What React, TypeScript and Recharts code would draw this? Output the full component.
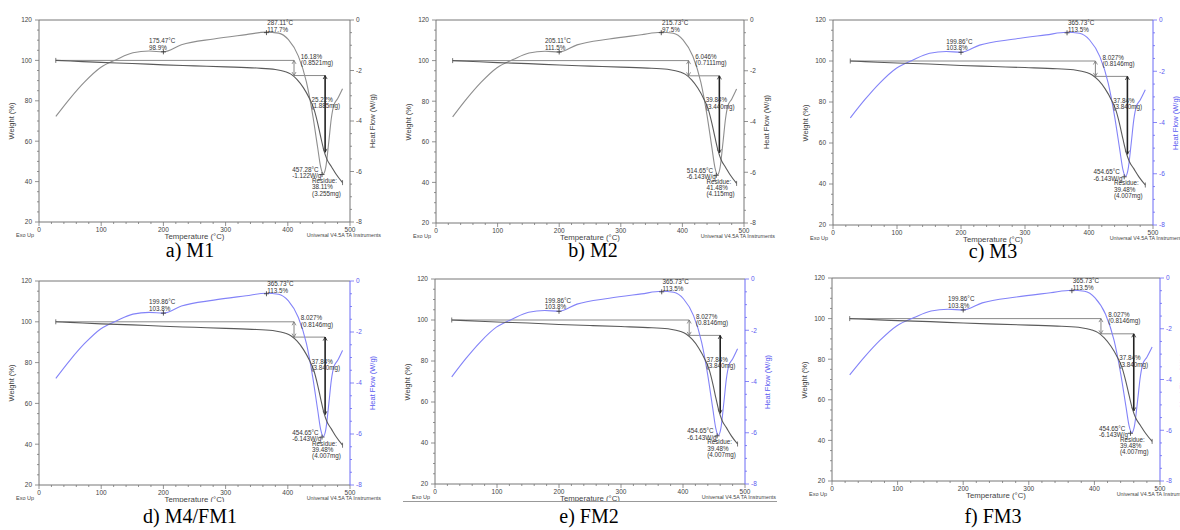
import React from 'react'
import { ComposedChart, Line, XAxis, YAxis, ReferenceLine, ReferenceDot } from 'recharts'

// axis ticks (minor + major)
const tempTicks = [0, 20, 40, 60, 80, 100, 120, 140, 160, 180, 200, 220, 240, 260, 280, 300, 320, 340, 360, 380, 400, 420, 440, 460, 480, 500]
const weightTicks = [20, 25, 30, 35, 40, 45, 50, 55, 60, 65, 70, 75, 80, 85, 90, 95, 100, 105, 110, 115, 120]
const heatTicks = [-8, -7.5, -7, -6.5, -6, -5.5, -5, -4.5, -4, -3.5, -3, -2.5, -2, -1.5, -1, -0.5, 0]

// TGA weight curve
const weightTemp = [27, 50, 100, 150, 200, 250, 300, 350, 380, 395, 405, 415, 425, 435, 442, 448, 453, 458, 463, 470, 478, 488]
const weightPct = [100, 99.7, 99.0, 98.5, 97.8, 97.3, 96.8, 96.2, 95.5, 94.5, 93.2, 90.5, 86.5, 81, 76, 69, 62, 55.5, 51, 47.5, 43.5, 39.5]

// DSC heat flow curve
const heatTemp = [27, 50, 73, 99, 125, 151, 177, 200, 229, 281, 333, 365, 385, 401, 417, 430, 440, 448, 453, 457, 461, 466, 470, 474, 480, 488]
const heatFlow = [-3.82, -3.1, -2.46, -1.88, -1.56, -1.3, -1.23, -1.26, -0.98, -0.75, -0.58, -0.48, -0.52, -0.78, -1.43, -2.46, -3.76, -5.05, -5.84, -6.1, -5.84, -4.8, -3.89, -3.37, -3.12, -2.72]

const weightData = weightTemp.map((t, i) => ({ t, w: weightPct[i] }))
const heatData = heatTemp.map((t, i) => ({ t, hf: heatFlow[i] }))

// annotation text per sample
const notesM1 = [['175.47°C', '98.9%'], ['287.11°C', '117.7%'], ['16.18%', '(0.8521mg)'], ['25.22%', '(1.885mg)'], ['457.28°C', '-1.122W/g'], ['Residue:', '38.11%', '(3.255mg)']]
const notesM2 = [['205.11°C', '111.5%'], ['215.73°C', '97.5%'], ['6.046%', '(0.7111mg)'], ['39.84%', '(3.440mg)'], ['514.65°C', '-6.143W/g'], ['Residue:', '41.48%', '(4.115mg)']]
const notesM3 = [['199.86°C', '103.8%'], ['365.73°C', '113.5%'], ['8.027%', '(0.8146mg)'], ['37.84%', '(3.840mg)'], ['454.65°C', '-6.143W/g'], ['Residue:', '39.48%', '(4.007mg)']]

// where those notes sit (temperature, weight %)
const noteTemp = [177, 367, 421, 438, 407, 439]
const noteWeight = [108.5, 117.4, 100.7, 79.5, 44.7, 39.3]

// "+" markers on the heat flow curve
const markTemp = [200, 365.7, 455]
const markHeat = [-1.26, -0.5, -6.12]

// weight-loss steps
const stepLines = [[27, 100, 410, 100], [410, 92.5, 460, 92.5]]
const stepArrows = [[410, 100, 410, 92.5], [460, 92.5, 460, 54.5]]

const SANS = '"Liberation Sans", Arial, sans-serif'
const SERIF = '"Liberation Serif", "Times New Roman", serif'
const AXIS = '#777'
const TXT = '#444'

const panels = [
  { x0: 39, x1: 350, y0: 20, y1: 222, blue: false, notes: notesM1, caption: 'a) M1', capX: 190, capY: 243, clipY: 0 },
  { x0: 436, x1: 744, y0: 20, y1: 223, blue: false, notes: notesM2, caption: 'b) M2', capX: 593, capY: 243, clipY: 0 },
  { x0: 833, x1: 1153, y0: 20, y1: 225, blue: true, notes: notesM3, caption: 'c) M3', capX: 993, capY: 244, clipY: 0 },
  { x0: 39, x1: 350, y0: 281, y1: 485, blue: true, notes: notesM3, caption: 'd) M4/FM1', capX: 190, capY: 509, clipY: 502 },
  { x0: 435, x1: 745, y0: 279, y1: 484, blue: true, notes: notesM3, caption: 'e) FM2', capX: 589, capY: 509, clipY: 502 },
  { x0: 832, x1: 1160, y0: 278, y1: 481, blue: true, notes: notesM3, caption: 'f) FM3', capX: 993, capY: 509, clipY: 0 },
]

const L = 40
const R = 40
const T = 10
const B = 20

const xTick = (color: string) => (p: any) => {
  const v = p.payload.value
  const major = v % 100 === 0
  return (
    <g>
      <line x1={p.x} y1={p.y} x2={p.x} y2={p.y + (major ? 4 : 2)} stroke={color} strokeWidth={0.8} />
      {major && (
        <text x={p.x} y={p.y + 10} textAnchor="middle" fontSize={6.5} fill={TXT} fontFamily={SANS}>
          {v}
        </text>
      )}
    </g>
  )
}

const leftTick = (color: string) => (p: any) => {
  const v = p.payload.value
  const major = v % 20 === 0
  return (
    <g>
      <line x1={p.x} y1={p.y} x2={p.x - (major ? 4 : 2)} y2={p.y} stroke={color} strokeWidth={0.8} />
      {major && (
        <text x={p.x - 7} y={p.y + 2.3} textAnchor="end" fontSize={6.5} fill={TXT} fontFamily={SANS}>
          {v}
        </text>
      )}
    </g>
  )
}

const rightTick = (color: string, label: string) => (p: any) => {
  const v = p.payload.value
  const major = v % 2 === 0
  return (
    <g>
      <line x1={p.x} y1={p.y} x2={p.x + (major ? 4 : 2)} y2={p.y} stroke={color} strokeWidth={0.8} />
      {major && (
        <text x={p.x + 6} y={p.y + 2.3} textAnchor="start" fontSize={6.5} fill={label} fontFamily={SANS}>
          {v}
        </text>
      )}
    </g>
  )
}

const arrowShape = (color: string, width: number) => (s: any) => {
  const { x1, y1, x2, y2 } = s
  const d = y2 > y1 ? 1 : -1
  return (
    <g>
      <line x1={x1} y1={y1} x2={x2} y2={y2} stroke={color} strokeWidth={width} />
      <path d={`M${x1 - 2},${y1 + d * 3.5} L${x1},${y1} L${x1 + 2},${y1 + d * 3.5}`} fill="none" stroke={color} strokeWidth={0.8} />
      <path d={`M${x2 - 2},${y2 - d * 3.5} L${x2},${y2} L${x2 + 2},${y2 - d * 3.5}`} fill="none" stroke={color} strokeWidth={0.8} />
    </g>
  )
}

const noteShape = (lines: string[]) => (s: any) => (
  <text x={s.cx} y={s.cy} fontSize={6.3} fill="#333" fontFamily={SANS}>
    {lines.map((l, i) => (
      <tspan key={i} x={s.cx} dy={i ? 6.3 : 0}>
        {l}
      </tspan>
    ))}
  </text>
)

const crossShape = (s: any) => (
  <g stroke="#333" strokeWidth={0.8}>
    <line x1={s.cx - 2.5} y1={s.cy} x2={s.cx + 2.5} y2={s.cy} />
    <line x1={s.cx} y1={s.cy - 2.5} x2={s.cx} y2={s.cy + 2.5} />
  </g>
)

const barShape = (s: any) => <line x1={s.cx} y1={s.cy - 2.5} x2={s.cx} y2={s.cy + 2.5} stroke="#555" strokeWidth={0.8} />

function Txt(props: { x: number; y: number; size: number; color?: string; anchor?: string; rotate?: boolean; children: React.ReactNode }) {
  const tx = props.anchor === 'end' ? '-100%' : props.anchor === 'start' ? '0' : '-50%'
  return (
    <div
      style={{
        position: 'absolute',
        left: props.x,
        top: props.y,
        transform: `translate(${tx}, -50%)${props.rotate ? ' rotate(-90deg)' : ''}`,
        fontSize: props.size,
        color: props.color || TXT,
        fontFamily: SANS,
        whiteSpace: 'nowrap',
        lineHeight: 1,
      }}
    >
      {props.children}
    </div>
  )
}

function Panel({ p }: { p: (typeof panels)[number] }) {
  const pw = p.x1 - p.x0
  const ph = p.y1 - p.y0
  const w = pw + L + R
  const h = ph + T + B
  const top = p.y0 - T
  const boxH = p.clipY ? p.clipY - top : h + 8
  const hfColor = p.blue ? '#8383f8' : '#8e8e8e'
  const rColor = p.blue ? '#6a6af5' : AXIS
  const rLabel = p.blue ? '#5a5af0' : TXT
  return (
    <div style={{ position: 'absolute', left: p.x0 - L, top, width: w, height: boxH, overflow: 'hidden' }}>
      <ComposedChart width={w} height={h} margin={{ top: T, right: 0, bottom: 0, left: 0 }}>
        <XAxis
          dataKey="t"
          type="number"
          domain={[0, 500]}
          ticks={tempTicks}
          interval={0}
          height={B}
          tickSize={0}
          tickMargin={0}
          tickLine={false}
          stroke={AXIS}
          tick={xTick(AXIS)}
          allowDataOverflow
        />
        <YAxis
          yAxisId="w"
          orientation="left"
          width={L}
          type="number"
          domain={[20, 120]}
          ticks={weightTicks}
          interval={0}
          tickSize={0}
          tickMargin={0}
          tickLine={false}
          stroke={AXIS}
          tick={leftTick(AXIS)}
          allowDataOverflow
        />
        <YAxis
          yAxisId="hf"
          orientation="right"
          width={R}
          type="number"
          domain={[-8, 0]}
          ticks={heatTicks}
          interval={0}
          tickSize={0}
          tickMargin={0}
          tickLine={false}
          stroke={rColor}
          tick={rightTick(rColor, rLabel)}
          allowDataOverflow
        />
        <ReferenceLine yAxisId="w" y={120} stroke={AXIS} strokeWidth={1} />
        {stepLines.map((s, i) => (
          <ReferenceLine
            key={'s' + i}
            yAxisId="w"
            segment={[{ x: s[0], y: s[1] }, { x: s[2], y: s[3] }]}
            stroke="#8a8a8a"
            strokeWidth={1}
          />
        ))}
        {stepArrows.map((s, i) => (
          <ReferenceLine
            key={'a' + i}
            yAxisId="w"
            segment={[{ x: s[0], y: s[1] }, { x: s[2], y: s[3] }]}
            stroke={i ? '#222' : '#777'}
            shape={arrowShape(i ? '#222' : '#777', i ? 1.6 : 0.9)}
          />
        ))}
        <Line
          yAxisId="hf"
          data={heatData}
          dataKey="hf"
          type="monotone"
          stroke={hfColor}
          strokeWidth={1.1}
          dot={false}
          activeDot={false}
          isAnimationActive={false}
        />
        <Line
          yAxisId="w"
          data={weightData}
          dataKey="w"
          type="monotone"
          stroke="#5a5a5a"
          strokeWidth={1.1}
          dot={false}
          activeDot={false}
          isAnimationActive={false}
        />
        <ReferenceDot yAxisId="w" x={27} y={100} r={0} shape={barShape} />
        <ReferenceDot yAxisId="w" x={488} y={39.5} r={0} shape={barShape} />
        {markTemp.map((t, i) => (
          <ReferenceDot key={'m' + i} yAxisId="hf" x={t} y={markHeat[i]} r={0} shape={crossShape} />
        ))}
        {p.notes.map((lines, i) => (
          <ReferenceDot key={'n' + i} yAxisId="w" x={noteTemp[i]} y={noteWeight[i]} r={0} shape={noteShape(lines)} />
        ))}
      </ComposedChart>
      <Txt x={L - 27} y={T + ph / 2} size={7.5} rotate>
        Weight (%)
      </Txt>
      <Txt x={L + pw + 23} y={T + ph / 2} size={7.5} rotate color={rLabel}>
        Heat Flow (W/g)
      </Txt>
      <Txt x={L + pw / 2} y={T + ph + 14.5} size={7.8}>
        Temperature (°C)
      </Txt>
      <Txt x={L - 23} y={T + ph + 14} size={5.5} anchor="start">
        Exo Up
      </Txt>
      <Txt x={L + pw + 31} y={T + ph + 14} size={5.3} anchor="end">
        Universal V4.5A TA Instruments
      </Txt>
    </div>
  )
}

export default function App() {
  return (
    <div style={{ position: 'absolute', left: 0, top: 0, width: 1180, height: 530, overflow: 'hidden', background: '#fff' }}>
      {panels.map((p, i) => (
        <Panel key={i} p={p} />
      ))}
      <div style={{ position: 'absolute', left: 403, top: 501, width: 374, height: 1, background: '#999' }} />
      {panels.map((p, i) => (
        <div
          key={'c' + i}
          style={{
            position: 'absolute',
            left: p.capX,
            top: p.capY,
            transform: 'translateX(-50%)',
            fontFamily: SERIF,
            fontSize: 20,
            lineHeight: '14px',
            whiteSpace: 'nowrap',
            color: '#000',
          }}
        >
          {p.caption}
        </div>
      ))}
    </div>
  )
}
